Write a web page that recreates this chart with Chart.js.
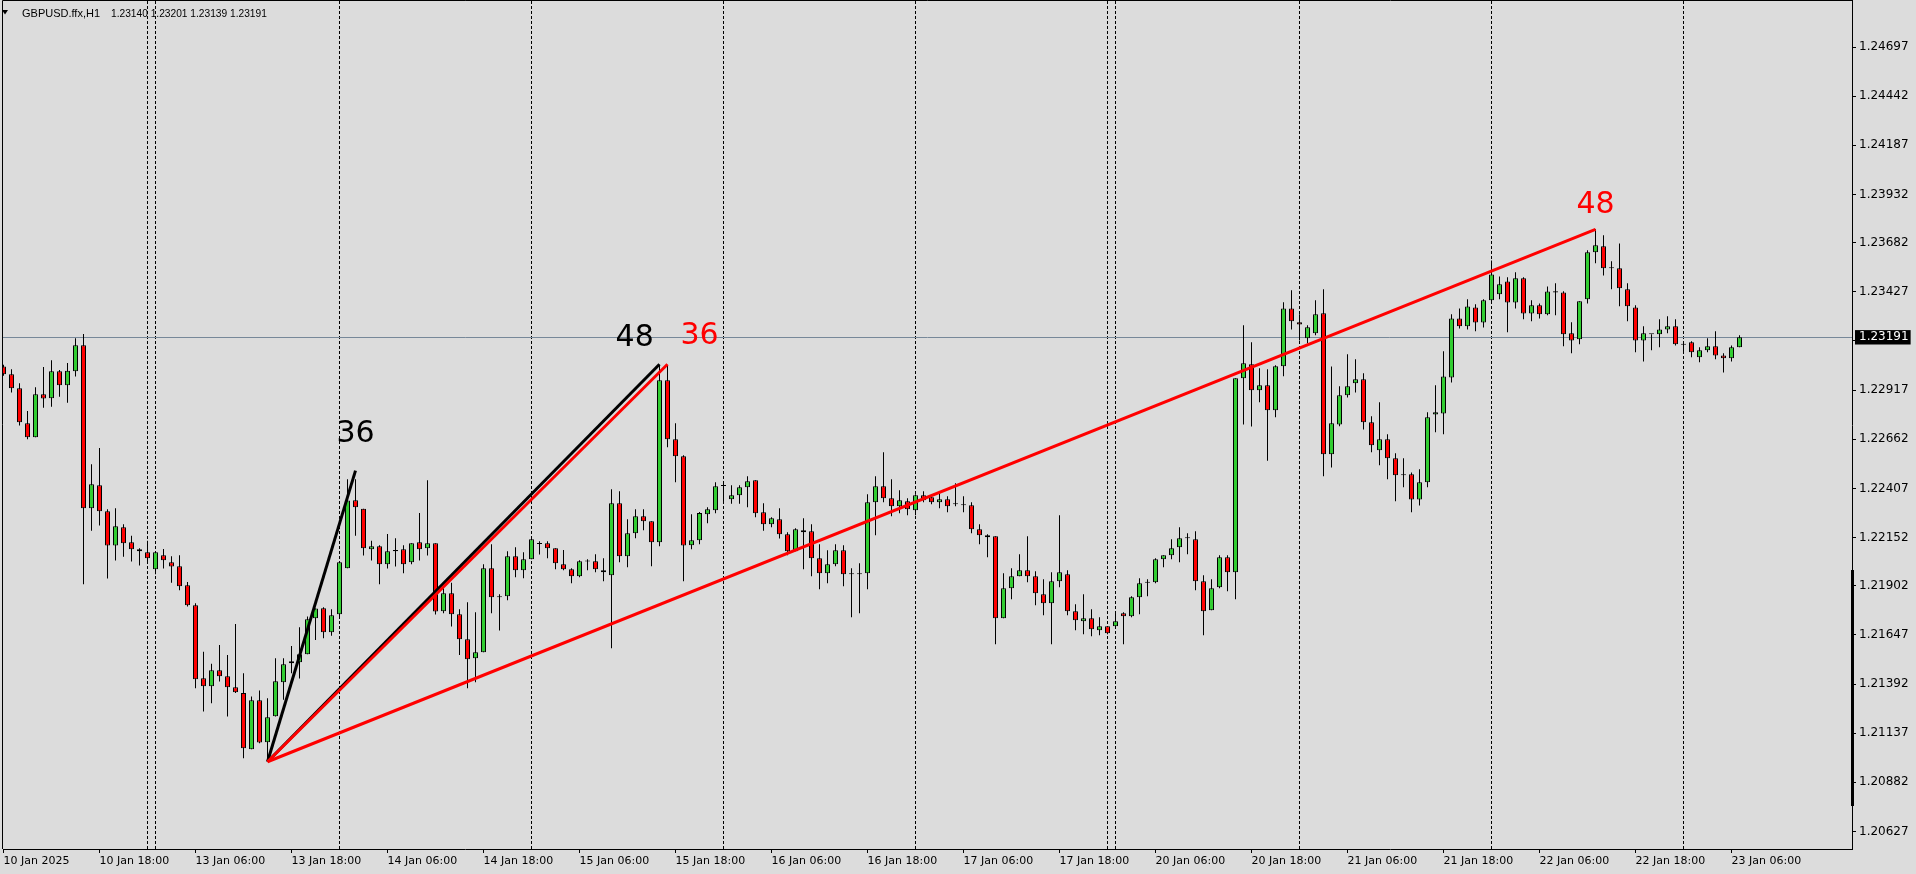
<!DOCTYPE html>
<html>
<head>
<meta charset="utf-8">
<script src="https://cdn.jsdelivr.net/npm/chart.js@4.4.1/dist/chart.umd.min.js"></script>
<style>
html,body{margin:0;padding:0;background:#DCDCDC;overflow:hidden}
#wrap{position:relative;width:1916px;height:874px}
canvas{display:block}
</style>
</head>
<body>
<div id="wrap"><canvas id="c" width="1916" height="874"></canvas></div>
<script>
// ---------------- DATA ----------------
const symbolName = 'GBPUSD.ffx,H1';

const timeLabels = ['10 Jan 2025','10 Jan 18:00','13 Jan 06:00','13 Jan 18:00','14 Jan 06:00','14 Jan 18:00',
  '15 Jan 06:00','15 Jan 18:00','16 Jan 06:00','16 Jan 18:00','17 Jan 06:00','17 Jan 18:00',
  '20 Jan 06:00','20 Jan 18:00','21 Jan 06:00','21 Jan 18:00','22 Jan 06:00','22 Jan 18:00','23 Jan 06:00'];
const labelBars = [0,12,24,36,48,60,72,84,96,108,120,132,144,156,168,180,192,204,216];
const separatorBars = [18,19,42,66,90,114,138,139,162,186,210];

const priceTicks = [1.20627,1.20882,1.21137,1.21392,1.21647,1.21902,1.22152,1.22407,1.22662,
  1.22917,1.23172,1.23427,1.23682,1.23932,1.24187,1.24442,1.24697];

const opens = [1.23039,1.22999,1.22927,1.22745,1.22672,1.22895,1.22875,1.23015,1.22942,1.23015,
1.23150,1.22304,1.22423,1.22289,1.22111,1.22206,1.22128,1.22091,1.22076,1.21988,
1.22060,1.22024,1.22003,1.21905,1.21801,1.21422,1.21381,1.21464,1.21433,1.21376,
1.21345,1.21054,1.21308,1.21090,1.21225,1.21402,1.21500,1.21505,1.21547,1.21733,
1.21785,1.21661,1.21754,1.21993,1.22346,1.22302,1.22091,1.22107,1.22014,1.22088,
1.22091,1.22024,1.22128,1.22097,1.22123,1.21770,1.21863,1.21754,1.21625,1.21526,
1.21557,1.21993,1.21843,1.21848,1.22055,1.21983,1.22040,1.22119,1.22123,1.22097,
1.22014,1.21988,1.21951,1.22029,1.22029,1.21983,1.21957,1.22330,1.22055,1.22174,
1.22263,1.22237,1.22128,1.22968,1.22662,1.22574,1.22112,1.22138,1.22273,1.22294,
1.22420,1.22351,1.22372,1.22413,1.22449,1.22283,1.22221,1.22247,1.22169,1.22081,
1.22190,1.22185,1.22045,1.21967,1.22014,1.22086,1.21962,1.21962,1.21967,1.22335,
1.22418,1.22356,1.22314,1.22340,1.22294,1.22371,1.22361,1.22335,1.22351,1.22325,
1.22323,1.22320,1.22195,1.22164,1.22159,1.21733,1.21889,1.21951,1.21982,1.21951,
1.21858,1.21811,1.21925,1.21962,1.21770,1.21718,1.21733,1.21671,1.21692,1.21692,
1.21759,1.21744,1.21842,1.21917,1.21920,1.22040,1.22060,1.22102,1.22148,1.22143,
1.21925,1.21775,1.21894,1.22050,1.21972,1.22978,1.23051,1.22916,1.22942,1.22812,
1.23041,1.23341,1.23269,1.23186,1.23212,1.23316,1.22584,1.22739,1.22890,1.22952,
1.22973,1.22750,1.22605,1.22662,1.22563,1.22475,1.22480,1.22350,1.22439,1.22791,
1.22796,1.22983,1.23289,1.23248,1.23346,1.23268,1.23383,1.23414,1.23481,1.23372,
1.23497,1.23315,1.23357,1.23310,1.23430,1.23424,1.23212,1.23181,1.23388,1.23632,
1.23663,1.23549,1.23549,1.23440,1.23346,1.23175,1.23207,1.23207,1.23232,1.23248,
1.23155,1.23165,1.23087,1.23124,1.23144,1.23097,1.23082,1.23140];

const highs = [1.23048,1.23025,1.22953,1.22809,1.22932,1.23037,1.23072,1.23022,1.23058,1.23186,
1.23208,1.22532,1.22617,1.22299,1.22304,1.22221,1.22161,1.22097,1.22135,1.22076,
1.22093,1.22055,1.22060,1.21922,1.21811,1.21559,1.21497,1.21595,1.21543,1.21704,
1.21448,1.21327,1.21358,1.21319,1.21526,1.21526,1.21590,1.21687,1.21742,1.21784,
1.21791,1.21780,1.22024,1.22455,1.22455,1.22302,1.22135,1.22112,1.22171,1.22149,
1.22112,1.22123,1.22280,1.22449,1.22123,1.21889,1.21918,1.21780,1.21817,1.21765,
1.22014,1.22117,1.21858,1.22081,1.22102,1.22076,1.22149,1.22133,1.22133,1.22097,
1.22088,1.21993,1.22034,1.22040,1.22066,1.22045,1.22403,1.22392,1.22247,1.22299,
1.22299,1.22237,1.23046,1.23046,1.22745,1.22579,1.22273,1.22285,1.22309,1.22439,
1.22437,1.22423,1.22423,1.22470,1.22449,1.22330,1.22257,1.22304,1.22180,1.22200,
1.22252,1.22221,1.22117,1.22086,1.22117,1.22112,1.21993,1.22019,1.22377,1.22470,
1.22595,1.22454,1.22397,1.22356,1.22377,1.22392,1.22371,1.22382,1.22366,1.22434,
1.22366,1.22335,1.22221,1.22169,1.22159,1.21967,1.21993,1.22065,1.22159,1.21977,
1.21936,1.21972,1.22268,1.21982,1.21806,1.21858,1.21780,1.21739,1.21692,1.21759,
1.21765,1.21848,1.21941,1.21936,1.22045,1.22060,1.22143,1.22206,1.22174,1.22185,
1.21957,1.21936,1.22060,1.22060,1.22978,1.23253,1.23165,1.23030,1.23025,1.23046,
1.23373,1.23435,1.23310,1.23253,1.23383,1.23440,1.23040,1.22937,1.23103,1.23077,
1.23004,1.22781,1.22854,1.22688,1.22589,1.22563,1.22490,1.22506,1.22802,1.22942,
1.23118,1.23310,1.23341,1.23388,1.23362,1.23388,1.23590,1.23507,1.23502,1.23528,
1.23502,1.23383,1.23367,1.23455,1.23471,1.23430,1.23269,1.23378,1.23642,1.23751,
1.23720,1.23585,1.23678,1.23471,1.23357,1.23248,1.23207,1.23284,1.23300,1.23284,
1.23160,1.23170,1.23139,1.23186,1.23222,1.23108,1.23149,1.23201];

const lows = [1.22992,1.22904,1.22733,1.22662,1.22672,1.22826,1.22831,1.22883,1.22852,1.22987,
1.21910,1.22188,1.22214,1.21939,1.22033,1.22053,1.22028,1.22007,1.22024,1.21962,
1.21991,1.21918,1.21879,1.21794,1.21370,1.21249,1.21293,1.21405,1.21224,1.21345,
1.21007,1.21054,1.21085,1.20992,1.21224,1.21310,1.21448,1.21421,1.21547,1.21621,
1.21630,1.21642,1.21742,1.21993,1.22162,1.22059,1.22033,1.21910,1.21991,1.22002,
1.21967,1.22014,1.22033,1.22059,1.21753,1.21760,1.21690,1.21543,1.21370,1.21402,
1.21557,1.21760,1.21670,1.21827,1.21946,1.21941,1.22040,1.22064,1.22045,1.21988,
1.21983,1.21915,1.21946,1.21983,1.21972,1.21926,1.21578,1.22024,1.21998,1.22149,
1.22190,1.22003,1.22107,1.22621,1.22439,1.21926,1.22091,1.22117,1.22226,1.22278,
1.22335,1.22328,1.22328,1.22309,1.22257,1.22188,1.22206,1.22147,1.22060,1.22081,
1.21988,1.21951,1.21884,1.21915,1.22003,1.21900,1.21739,1.21760,1.21884,1.22164,
1.22335,1.22262,1.22278,1.22268,1.22268,1.22335,1.22325,1.22304,1.22283,1.22314,
1.22283,1.22174,1.22117,1.22050,1.21599,1.21733,1.21832,1.21951,1.21920,1.21801,
1.21749,1.21599,1.21894,1.21749,1.21671,1.21650,1.21640,1.21645,1.21651,1.21682,
1.21599,1.21739,1.21754,1.21848,1.21915,1.21998,1.22040,1.22024,1.22065,1.21879,
1.21645,1.21775,1.21889,1.21874,1.21832,1.22738,1.22728,1.22854,1.22551,1.22776,
1.22989,1.23231,1.23175,1.23160,1.23201,1.22470,1.22516,1.22729,1.22879,1.22905,
1.22713,1.22594,1.22527,1.22454,1.22340,1.22413,1.22283,1.22319,1.22413,1.22698,
1.22688,1.22957,1.23237,1.23232,1.23222,1.23242,1.23367,1.23388,1.23217,1.23341,
1.23284,1.23274,1.23289,1.23305,1.23305,1.23144,1.23108,1.23155,1.23367,1.23575,
1.23511,1.23440,1.23352,1.23274,1.23113,1.23066,1.23124,1.23139,1.23212,1.23149,
1.23113,1.23087,1.23061,1.23113,1.23077,1.23009,1.23066,1.23139];

const closes = [1.22999,1.22927,1.22750,1.22672,1.22895,1.22873,1.23015,1.22942,1.23018,1.23150,
1.22304,1.22429,1.22289,1.22111,1.22211,1.22123,1.22091,1.22081,1.22045,1.22076,
1.22034,1.22002,1.21900,1.21801,1.21417,1.21381,1.21464,1.21433,1.21376,1.21350,
1.21059,1.21308,1.21089,1.21220,1.21407,1.21495,1.21510,1.21547,1.21728,1.21784,
1.21661,1.21749,1.22024,1.22344,1.22309,1.22097,1.22107,1.22014,1.22081,1.22081,
1.22014,1.22123,1.22091,1.22123,1.21768,1.21863,1.21754,1.21625,1.21521,1.21557,
1.21993,1.21843,1.21848,1.22055,1.21983,1.22040,1.22143,1.22123,1.22097,1.22019,
1.21988,1.21951,1.22029,1.22028,1.21988,1.21972,1.22330,1.22055,1.22174,1.22263,
1.22237,1.22128,1.22968,1.22662,1.22574,1.22111,1.22138,1.22280,1.22299,1.22418,
1.22423,1.22372,1.22413,1.22444,1.22278,1.22221,1.22252,1.22169,1.22081,1.22195,
1.22180,1.22045,1.21967,1.22014,1.22086,1.21962,1.21962,1.21965,1.22335,1.22418,
1.22356,1.22314,1.22345,1.22299,1.22371,1.22345,1.22335,1.22351,1.22314,1.22325,
1.22320,1.22195,1.22164,1.22154,1.21733,1.21889,1.21951,1.21982,1.21951,1.21863,
1.21811,1.21925,1.21972,1.21770,1.21723,1.21733,1.21676,1.21692,1.21656,1.21718,
1.21744,1.21842,1.21915,1.21920,1.22040,1.22060,1.22097,1.22148,1.22154,1.21925,
1.21770,1.21889,1.22050,1.21972,1.22978,1.23056,1.22916,1.22942,1.22812,1.23041,
1.23341,1.23274,1.23258,1.23243,1.23310,1.22584,1.22745,1.22890,1.22937,1.22973,
1.22750,1.22631,1.22662,1.22563,1.22475,1.22475,1.22350,1.22439,1.22776,1.22802,
1.22988,1.23289,1.23248,1.23351,1.23268,1.23383,1.23517,1.23466,1.23372,1.23497,
1.23315,1.23357,1.23310,1.23429,1.23424,1.23207,1.23175,1.23378,1.23632,1.23668,
1.23549,1.23549,1.23445,1.23352,1.23175,1.23212,1.23207,1.23232,1.23248,1.23155,
1.23153,1.23113,1.23124,1.23144,1.23097,1.23082,1.23139,1.23191];

// trend lines (all start at the swing low)
const trendStartBar = 33;
const trendStartPrice = 1.20989;
const trendEndBars = [44, 82, 83, 199];
const trendEndPrices = [1.22499, 1.23051, 1.23051, 1.23751];
const trendTexts = ['36', '48', '36', '48'];
const trendTextBars = [44, 78.9, 87, 199];
const trendTextPrices = [1.22686, 1.23188, 1.23199, 1.23875];

// ---------------- STYLE ----------------
const GREEN = '#32CD32', RED = '#FF0000', BLACK = '#000000';
const trendColors = [BLACK, BLACK, RED, RED];
const trendOrder = [1, 1, 0, 0];
const X_FONT = {family: 'DejaVu Sans', size: 11};
const Y_FONT = {family: 'DejaVu Sans', size: 12};
const lastIdx = closes.length - 1;
const lastClose = closes[lastIdx];
const barIdx = opens.map((_, i) => i);
const X_MIN = -0.0625, X_MAX = 231.0625;
const Y_MIN = 1.2053627, Y_MAX = 1.2493575;

const datasets = [];
trendEndBars.forEach((b, i) => {
  datasets.push({
    type: 'line',
    data: [{x: trendStartBar, y: trendStartPrice}, {x: b, y: trendEndPrices[i]}],
    borderColor: trendColors[i], borderWidth: 3, pointRadius: 0, tension: 0,
    order: trendOrder[i], xAxisID: 'x', yAxisID: 'y'
  });
});
datasets.push({
  type: 'bar',
  data: barIdx.map(i => ({x: i, y: [opens[i], closes[i]]})),
  backgroundColor: barIdx.map(i => closes[i] >= opens[i] ? GREEN : RED),
  borderColor: BLACK, borderWidth: 1, borderSkipped: false,
  grouped: false, maxBarThickness: 5, minBarLength: 1, inflateAmount: 0,
  clip: 0, order: 2, xAxisID: 'x', yAxisID: 'y'
});
datasets.push({
  type: 'bar',
  data: barIdx.map(i => ({x: i, y: [lows[i], highs[i]]})),
  backgroundColor: BLACK, borderWidth: 0,
  grouped: false, maxBarThickness: 1, inflateAmount: 0,
  clip: 0, order: 3, xAxisID: 'x', yAxisID: 'y'
});

const noPad = s => { s.paddingTop = 0; s.paddingBottom = 0; s.paddingLeft = 0; s.paddingRight = 0; };

const decor = {
  id: 'decor',
  afterDatasetsDraw(chart) {
    const {ctx, scales: {x, y}} = chart;
    ctx.save();
    ctx.font = '30px "DejaVu Sans"';
    ctx.textAlign = 'center';
    ctx.textBaseline = 'middle';
    trendTexts.forEach((t, i) => {
      ctx.fillStyle = trendColors[i];
      ctx.fillText(t, x.getPixelForValue(trendTextBars[i]), y.getPixelForValue(trendTextPrices[i]));
    });
    ctx.restore();
  },
  afterDraw(chart) {
    const {ctx, chartArea: a} = chart;
    ctx.save();
    ctx.strokeStyle = BLACK; ctx.lineWidth = 1;
    ctx.beginPath();
    ctx.moveTo(2.5, a.bottom); ctx.lineTo(2.5, 0.5); ctx.lineTo(a.right + 1, 0.5);
    ctx.stroke();
    ctx.fillStyle = BLACK;
    ctx.fillRect(a.right - 1, 570, 3, 236);
    // header
    ctx.beginPath(); ctx.moveTo(2, 10); ctx.lineTo(8, 10); ctx.lineTo(5, 14.5); ctx.closePath(); ctx.fill();
    ctx.font = '11px "Liberation Sans"';
    ctx.textAlign = 'left'; ctx.textBaseline = 'alphabetic';
    ctx.fillText(symbolName, 22, 17);
    ctx.font = '10.2px "Liberation Sans"';
    const vals = [opens[lastIdx], highs[lastIdx], lows[lastIdx], closes[lastIdx]].map(v => v.toFixed(5)).join(' ');
    ctx.fillText(vals, 111, 17);
    ctx.restore();
  }
};

new Chart(document.getElementById('c'), {
  type: 'bar',
  data: {datasets},
  plugins: [decor],
  options: {
    responsive: false, animation: false, devicePixelRatio: 1, events: [],
    layout: {padding: {left: 3, top: 1, right: 0, bottom: 0}},
    plugins: {legend: {display: false}, tooltip: {enabled: false}},
    scales: {
      x: {
        type: 'linear', position: 'bottom', min: X_MIN, max: X_MAX, bounds: 'data',
        offset: false,
        afterBuildTicks: s => { s.ticks = labelBars.map(v => ({value: v})); },
        afterFit: s => { s.height = 25; noPad(s); },
        grid: {display: true, drawOnChartArea: false, drawTicks: true, tickLength: 4, color: BLACK, tickColor: BLACK, offset: false},
        border: {display: true, color: BLACK, width: 1},
        ticks: {
          autoSkip: false, maxRotation: 0, minRotation: 0, align: 'start', padding: 2,
          color: BLACK, font: X_FONT,
          callback: v => timeLabels[labelBars.indexOf(v)]
        }
      },
      xSep: {
        type: 'linear', position: 'top', min: X_MIN, max: X_MAX, bounds: 'data', offset: false,
        afterBuildTicks: s => { s.ticks = separatorBars.map(v => ({value: v})); },
        afterFit: s => { s.height = 0; noPad(s); },
        grid: {display: true, drawOnChartArea: true, drawTicks: false, color: BLACK, lineWidth: 1, offset: false},
        border: {display: false, dash: [3, 2]},
        ticks: {display: false}
      },
      y: {
        type: 'linear', position: 'right', min: Y_MIN, max: Y_MAX, bounds: 'data', beginAtZero: false,
        afterBuildTicks: s => { s.ticks = priceTicks.concat([lastClose]).map(v => ({value: v})); },
        afterFit: s => { s.width = 64; noPad(s); },
        grid: {
          display: true, drawOnChartArea: true, drawTicks: true, tickLength: 4,
          color: c => (c.tick && c.tick.value === lastClose) ? '#778899' : 'rgba(0,0,0,0)',
          tickColor: c => (c.tick && c.tick.value === lastClose) ? 'rgba(0,0,0,0)' : BLACK
        },
        border: {display: true, color: BLACK, width: 1},
        ticks: {
          autoSkip: false, padding: 3, font: Y_FONT,
          color: c => (c.tick && c.tick.value === lastClose) ? '#FFFFFF' : BLACK,
          showLabelBackdrop: c => !!(c.tick && c.tick.value === lastClose),
          backdropColor: BLACK,
          backdropPadding: {top: 0, bottom: 0, left: 4, right: 2},
          callback: v => Number(v).toFixed(5)
        }
      }
    }
  }
});
</script>
</body>
</html>
